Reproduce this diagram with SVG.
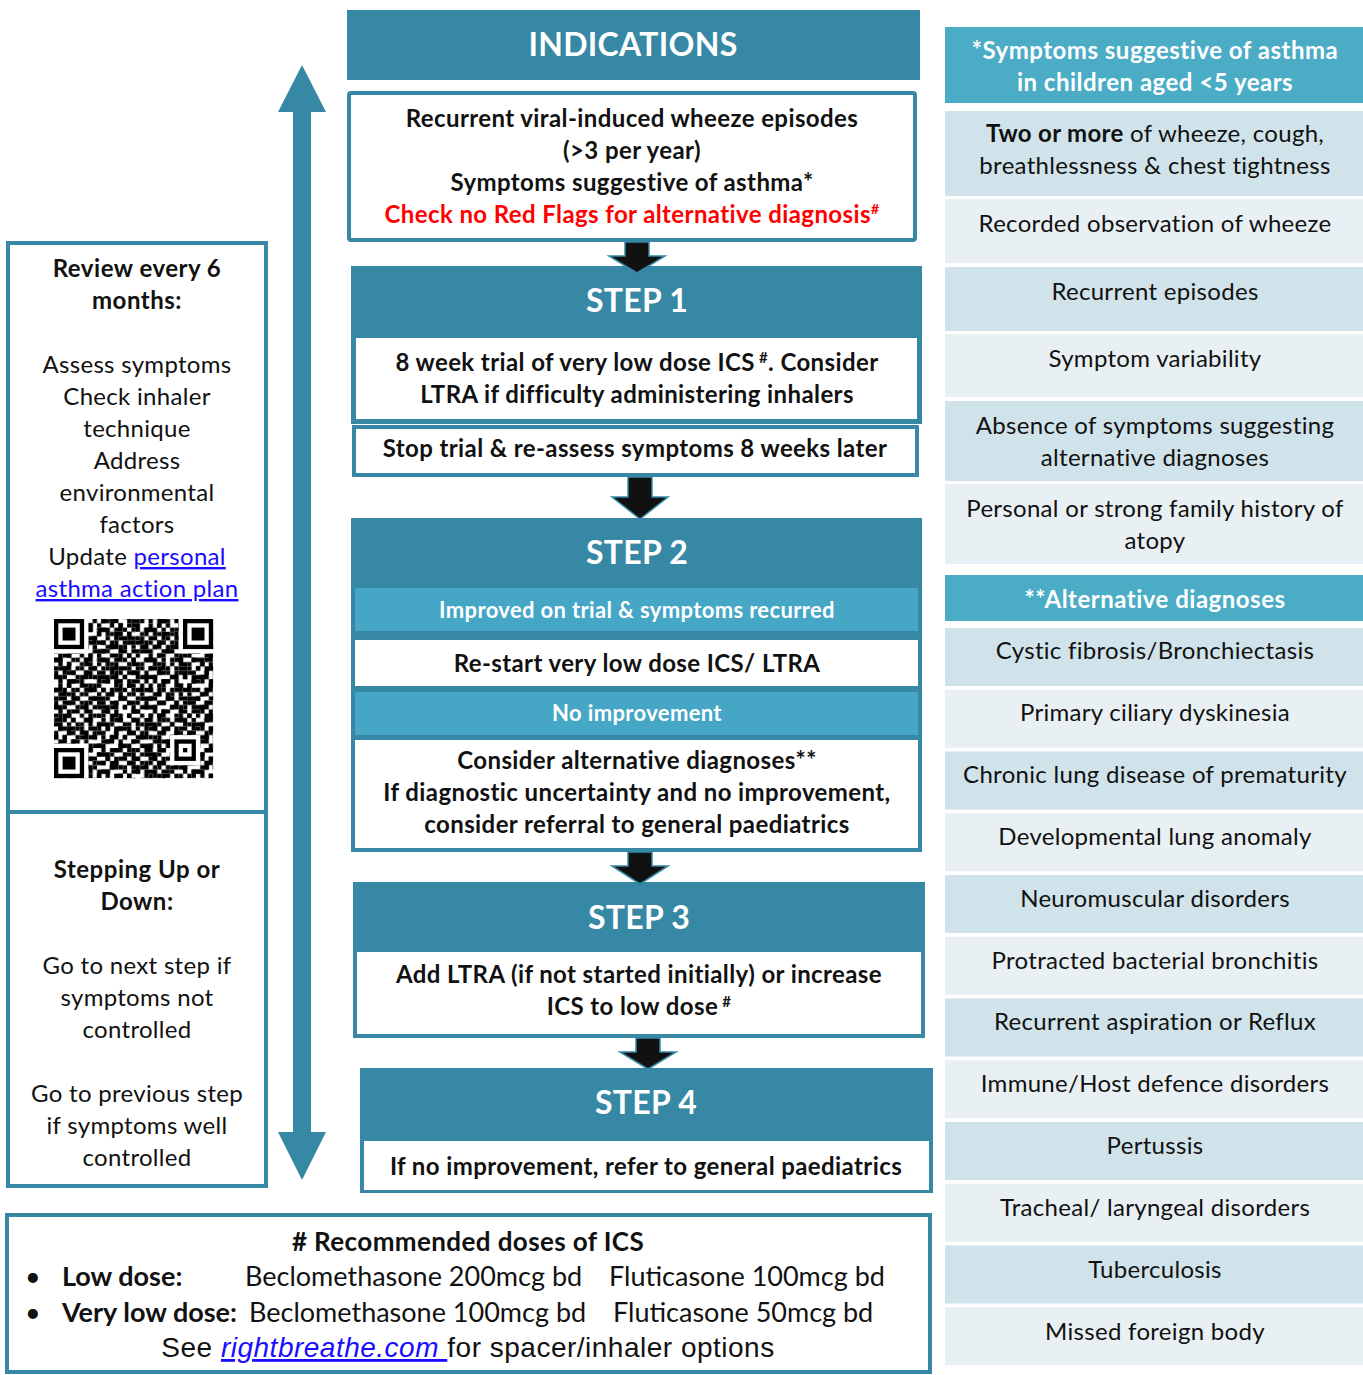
<svg xmlns="http://www.w3.org/2000/svg" width="1363" height="1375" viewBox="0 0 1363 1375">
<style>
text{font-family:Lato,"Open Sans",sans-serif;}
.c{text-anchor:middle;}
.b{font-weight:bold;}
.t22{font-size:24px;letter-spacing:0.4px;fill:#111;}
.hd{font-size:32px;font-weight:bold;fill:#fff;text-anchor:middle;letter-spacing:0.3px;}
.sub{font-size:22px;letter-spacing:0.35px;font-weight:bold;fill:#fff;text-anchor:middle;}
.rt{font-size:24px;letter-spacing:0.3px;fill:#111;text-anchor:middle;}
.rh{font-size:24px;letter-spacing:0.5px;font-weight:bold;fill:#fff;text-anchor:middle;}
.lt{font-size:24px;letter-spacing:0.3px;fill:#111;text-anchor:middle;}
.lb{letter-spacing:0.5px;}
.bt{font-size:27px;fill:#111;}
.teal{fill:#3688a4;}
.dk{fill:#d0e3ea;}
.lg{fill:#e8f0f3;}
.hl{fill:#4bacc6;}
.bar{fill:#45a6c6;}
.wb{fill:#fff;}
.frame{fill:#fff;stroke:#3688a4;stroke-width:4;}
.link{fill:#1a0dff;text-decoration:underline;}
.blk{fill:#111;stroke:#3688a4;stroke-width:1.5;}
</style>
<defs>
<pattern id="qa" patternUnits="userSpaceOnUse" width="11" height="11">
<path fill="none" stroke="#000" stroke-width="1" d="M0 .5h1M2 .5h2M6 .5h1M9 .5h1M2 1.5h1M4 1.5h1M7 1.5h2M0 2.5h2M5 2.5h1M8 2.5h1M10 2.5h1M1 3.5h1M3 3.5h2M6 3.5h1M10 3.5h1M3 4.5h1M6 4.5h2M9 4.5h1M0 5.5h1M2 5.5h1M5 5.5h1M8 5.5h2M1 6.5h2M4 6.5h1M7 6.5h1M0 7.5h1M4 7.5h2M9 7.5h2M2 8.5h2M6 8.5h1M8 8.5h1M0 9.5h2M5 9.5h1M7 9.5h1M10 9.5h1M1 10.5h1M3 10.5h1M7 10.5h2"/>
</pattern>
<pattern id="qb" patternUnits="userSpaceOnUse" width="7" height="7" x="3" y="2">
<path fill="none" stroke="#000" stroke-width="1" d="M1 .5h1M4 .5h2M0 1.5h1M3 1.5h1M2 2.5h1M5 2.5h2M0 3.5h2M4 3.5h1M3 4.5h2M6 4.5h1M1 5.5h2M0 6.5h1M5 6.5h1"/>
</pattern>
</defs>
<rect width="1363" height="1375" fill="#fff"/>

<!-- left panels -->
<g id="review">
<rect class="frame" x="8" y="243" width="258" height="569"/>
<text class="lt b lb" x="137" y="277">Review every 6</text>
<text class="lt b lb" x="137" y="309">months:</text>
<text class="lt" x="137" y="373">Assess symptoms</text>
<text class="lt" x="137" y="405">Check inhaler</text>
<text class="lt" x="137" y="437">technique</text>
<text class="lt" x="137" y="469">Address</text>
<text class="lt" x="137" y="501">environmental</text>
<text class="lt" x="137" y="533">factors</text>
<text class="lt" x="137" y="565">Update <tspan class="link">personal</tspan></text>
<text class="lt link" x="137" y="597">asthma action plan</text>
<g id="qr" transform="translate(54,619) scale(4.3)">
<rect width="37" height="37" fill="url(#qa)"/>
<rect width="37" height="37" fill="url(#qb)"/>
<rect x="0" y="0" width="8" height="8" fill="#fff"/>
<rect x="29" y="0" width="8" height="8" fill="#fff"/>
<rect x="0" y="29" width="8" height="8" fill="#fff"/>
<rect x="27" y="27" width="7" height="7" fill="#fff"/>
<g fill="none" stroke="#000" stroke-width="1">
<rect x="0.5" y="0.5" width="6" height="6"/>
<rect x="30.5" y="0.5" width="6" height="6"/>
<rect x="0.5" y="30.5" width="6" height="6"/>
<rect x="28.5" y="28.5" width="4" height="4"/>
</g>
<g fill="#000">
<rect x="2" y="2" width="3" height="3"/>
<rect x="32" y="2" width="3" height="3"/>
<rect x="2" y="32" width="3" height="3"/>
<rect x="30" y="30" width="1" height="1"/>
</g>
</g>
</g>
<g id="stepping">
<rect class="frame" x="8" y="812" width="258" height="374"/>
<text class="lt b lb" x="137" y="878">Stepping Up or</text>
<text class="lt b lb" x="137" y="910">Down:</text>
<text class="lt" x="137" y="974">Go to next step if</text>
<text class="lt" x="137" y="1006">symptoms not</text>
<text class="lt" x="137" y="1038">controlled</text>
<text class="lt" x="137" y="1102">Go to previous step</text>
<text class="lt" x="137" y="1134">if symptoms well</text>
<text class="lt" x="137" y="1166">controlled</text>
</g>

<!-- center column -->
<g id="indications">
<rect class="teal" x="347" y="10" width="573" height="70"/>
<text class="hd" x="633" y="56">INDICATIONS</text>
<rect class="frame" x="349" y="93" width="566" height="147" rx="2"/>
<text class="t22 b c" x="632" y="127">Recurrent viral-induced wheeze episodes</text>
<text class="t22 b c" x="632" y="159">(&gt;3 per year)</text>
<text class="t22 b c" x="632" y="191">Symptoms suggestive of asthma*</text>
<text class="t22 b c" x="632" y="223" style="fill:#ff0000">Check no Red Flags for alternative diagnosis<tspan font-size="14" dy="-9">#</tspan></text>
</g>

<g id="step1">
<rect class="teal" x="351" y="266" width="571" height="158"/>
<text class="hd" x="637" y="312">STEP 1</text>
<rect class="wb" x="356" y="338" width="561" height="81"/>
<text class="t22 b c" x="637" y="371">8 week trial of very low dose ICS<tspan font-size="15" dy="-8"> #</tspan><tspan dy="8">. Consider</tspan></text>
<text class="t22 b c" x="637" y="403">LTRA if difficulty administering inhalers</text>
<rect class="frame" x="354" y="427" width="563" height="48"/>
<text class="t22 b c" x="635" y="457">Stop trial &amp; re-assess symptoms 8 weeks later</text>
</g>

<g id="step2">
<rect class="teal" x="351" y="518" width="571" height="334"/>
<text class="hd" x="637" y="564">STEP 2</text>
<rect class="bar" x="355" y="588" width="563" height="43"/>
<text class="sub" x="637" y="618">Improved on trial &amp; symptoms recurred</text>
<rect class="wb" x="355" y="640" width="563" height="46"/>
<text class="t22 b c" x="637" y="672">Re-start very low dose ICS/ LTRA</text>
<rect class="bar" x="355" y="692" width="563" height="43"/>
<text class="sub" x="637" y="721">No improvement</text>
<rect class="wb" x="355" y="740" width="563" height="108"/>
<text class="t22 b c" x="637" y="769">Consider alternative diagnoses**</text>
<text class="t22 b c" x="637" y="801">If diagnostic uncertainty and no improvement,</text>
<text class="t22 b c" x="637" y="833">consider referral to general paediatrics</text>
</g>

<g id="step3">
<rect class="teal" x="353" y="882" width="572" height="156"/>
<text class="hd" x="639" y="929">STEP 3</text>
<rect class="wb" x="357" y="952" width="564" height="82"/>
<text class="t22 b c" x="639" y="983">Add LTRA (if not started initially) or increase</text>
<text class="t22 b c" x="639" y="1015">ICS to low dose<tspan font-size="15" dy="-8"> #</tspan></text>
</g>

<g id="step4">
<rect class="teal" x="360" y="1068" width="573" height="125"/>
<text class="hd" x="646" y="1114">STEP 4</text>
<rect class="wb" x="364" y="1141" width="565" height="49"/>
<text class="t22 b c" x="646" y="1175">If no improvement, refer to general paediatrics</text>
</g>

<!-- doses -->
<g id="doses">
<rect class="frame" x="7" y="1215" width="923" height="157"/>
<text class="bt b c" x="468" y="1251" style="font-size:26px;letter-spacing:0.4px">#  Recommended doses of ICS</text>
<text class="bt" x="25" y="1286">•</text>
<text class="bt b" x="62" y="1286">Low dose:</text>
<text class="bt" x="245" y="1286">Beclomethasone 200mcg bd</text>
<text class="bt" x="609" y="1286">Fluticasone 100mcg bd</text>
<text class="bt" x="25" y="1322">•</text>
<text class="bt b" x="62" y="1322">Very low dose:</text>
<text class="bt" x="249" y="1322">Beclomethasone 100mcg bd</text>
<text class="bt" x="613" y="1322">Fluticasone 50mcg bd</text>
<text x="468" y="1357" text-anchor="middle" style="font-family:'Liberation Sans',Arial,sans-serif;font-size:28px;letter-spacing:0.5px;fill:#111">See <tspan class="link" style="font-family:'Liberation Sans',Arial,sans-serif;font-style:italic">rightbreathe.com </tspan>for spacer/inhaler options</text>
</g>

<!-- right column -->
<g id="symptoms">
<rect class="hl" x="945" y="27" width="418" height="76"/>
<text class="rh" x="1155" y="59">*Symptoms suggestive of asthma</text>
<text class="rh" x="1155" y="91">in children aged &lt;5 years</text>
<rect class="dk" x="945" y="111" width="418" height="85"/>
<text class="rt" x="1155" y="142"><tspan font-weight="bold">Two or more</tspan> of wheeze, cough,</text>
<text class="rt" x="1155" y="174">breathlessness &amp; chest tightness</text>
<rect class="lg" x="945" y="199" width="418" height="64"/>
<text class="rt" x="1155" y="232">Recorded observation of wheeze</text>
<rect class="dk" x="945" y="267" width="418" height="64"/>
<text class="rt" x="1155" y="300">Recurrent episodes</text>
<rect class="lg" x="945" y="334" width="418" height="63"/>
<text class="rt" x="1155" y="367">Symptom variability</text>
<rect class="dk" x="945" y="401" width="418" height="80"/>
<text class="rt" x="1155" y="434">Absence of symptoms suggesting</text>
<text class="rt" x="1155" y="466">alternative diagnoses</text>
<rect class="lg" x="945" y="484" width="418" height="80"/>
<text class="rt" x="1155" y="517">Personal or strong family history of</text>
<text class="rt" x="1155" y="549">atopy</text>
</g>
<g id="alternatives">
<rect class="hl" x="945" y="575" width="418" height="46"/>
<text class="rh" x="1155" y="608">**Alternative diagnoses</text>
<rect class="dk" x="945" y="628" width="418" height="58"/>
<text class="rt" x="1155" y="659">Cystic fibrosis/Bronchiectasis</text>
<rect class="lg" x="945" y="689.75" width="418" height="58"/>
<text class="rt" x="1155" y="721">Primary ciliary dyskinesia</text>
<rect class="dk" x="945" y="751.5" width="418" height="58"/>
<text class="rt" x="1155" y="783">Chronic lung disease of prematurity</text>
<rect class="lg" x="945" y="813.25" width="418" height="58"/>
<text class="rt" x="1155" y="845">Developmental lung anomaly</text>
<rect class="dk" x="945" y="875" width="418" height="58"/>
<text class="rt" x="1155" y="907">Neuromuscular disorders</text>
<rect class="lg" x="945" y="936.75" width="418" height="58"/>
<text class="rt" x="1155" y="969">Protracted bacterial bronchitis</text>
<rect class="dk" x="945" y="998.5" width="418" height="58"/>
<text class="rt" x="1155" y="1030">Recurrent aspiration or Reflux</text>
<rect class="lg" x="945" y="1060.25" width="418" height="58"/>
<text class="rt" x="1155" y="1092">Immune/Host defence disorders</text>
<rect class="dk" x="945" y="1122" width="418" height="58"/>
<text class="rt" x="1155" y="1154">Pertussis</text>
<rect class="lg" x="945" y="1183.75" width="418" height="58"/>
<text class="rt" x="1155" y="1216">Tracheal/ laryngeal disorders</text>
<rect class="dk" x="945" y="1245.5" width="418" height="58"/>
<text class="rt" x="1155" y="1278">Tuberculosis</text>
<rect class="lg" x="945" y="1307.25" width="418" height="58"/>
<text class="rt" x="1155" y="1340">Missed foreign body</text>
</g>

<!-- connectors -->
<g id="connectors">
<polygon class="teal" points="302,65 326,112 311,112 311,1132 326,1132 302,1180 278,1132 293,1132 293,112 278,112"/>
<polygon class="blk" points="625,242 649,242 649,256 665,256 637,273 609,256 625,256"/>
<polygon class="blk" points="628,477 652,477 652,497 668,497 640,519 612,497 628,497"/>
<polygon class="blk" points="628,852 652,852 652,866 668,866 640,884 612,866 628,866"/>
<polygon class="blk" points="636,1038 660,1038 660,1052 676,1052 648,1069 620,1052 636,1052"/>
</g>
</svg>
